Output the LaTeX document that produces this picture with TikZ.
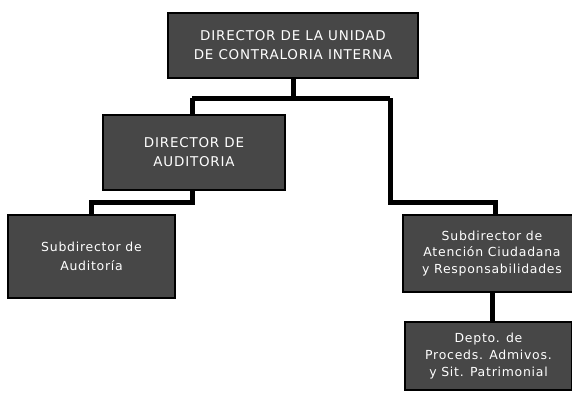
\documentclass[tikz,border=0pt]{standalone}
\usepackage{fontspec}
\setmainfont{DejaVu Sans}[LetterSpace=6]
\begin{document}
\begin{tikzpicture}[x=1bp,y=-1bp,
  orgbox/.style={draw=black, line width=1.5bp, fill=black!72, text=white,
    align=center, inner sep=0pt, font=\fontsize{12.5}{17.5}\selectfont},
  link/.style={line width=5bp, draw=black}]
\useasboundingbox (0,0) rectangle (572,397);
\node[orgbox, minimum width=250bp, minimum height=65bp, font=\fontsize{13.5}{19}\selectfont] (top) at (293,45.5)
  {DIRECTOR DE LA UNIDAD\\DE CONTRALORIA INTERNA};
\node[orgbox, minimum width=182bp, minimum height=75bp, font=\fontsize{13.5}{19}\selectfont] (dir) at (194,152.5)
  {DIRECTOR DE\\AUDITORIA};
\node[orgbox, minimum width=167bp, minimum height=83bp, font=\fontsize{12.5}{19}\selectfont] (sub) at (91.5,256.5)
  {Subdirector de\\Auditoría};
\node[orgbox, minimum width=178bp, minimum height=77bp, font=\fontsize{12.5}{17}\selectfont] (sat) at (492,253.5)
  {Subdirector de\\Atención Ciudadana\\y Responsabilidades};
\node[orgbox, minimum width=167bp, minimum height=68bp] (dep) at (488.5,356)
  {Depto. de\\Proceds. Admivos.\\y Sit. Patrimonial};
\coordinate (jt) at (293,98);
\coordinate (jl) at (192,98);
\coordinate (jr) at (390,98);
\coordinate (jr2) at (390,202);
\coordinate (jr3) at (495,202);
\coordinate (jd) at (192,202);
\coordinate (jd2) at (91,202);
\draw[link] (top.south) -- (jt);
\draw[link] (jl) -- (jr);
\draw[link] (jl) -- (jl |- dir.north);
\draw[link] (jr) -- (jr2) -- (jr3) -- (jr3 |- sat.north);
\draw[link] (jd |- dir.south) -- (jd) -- (jd2) -- (jd2 |- sub.north);
\draw[link] (sat.south -| 492,0) -- (dep.north -| 492,0);
\end{tikzpicture}
\end{document}
